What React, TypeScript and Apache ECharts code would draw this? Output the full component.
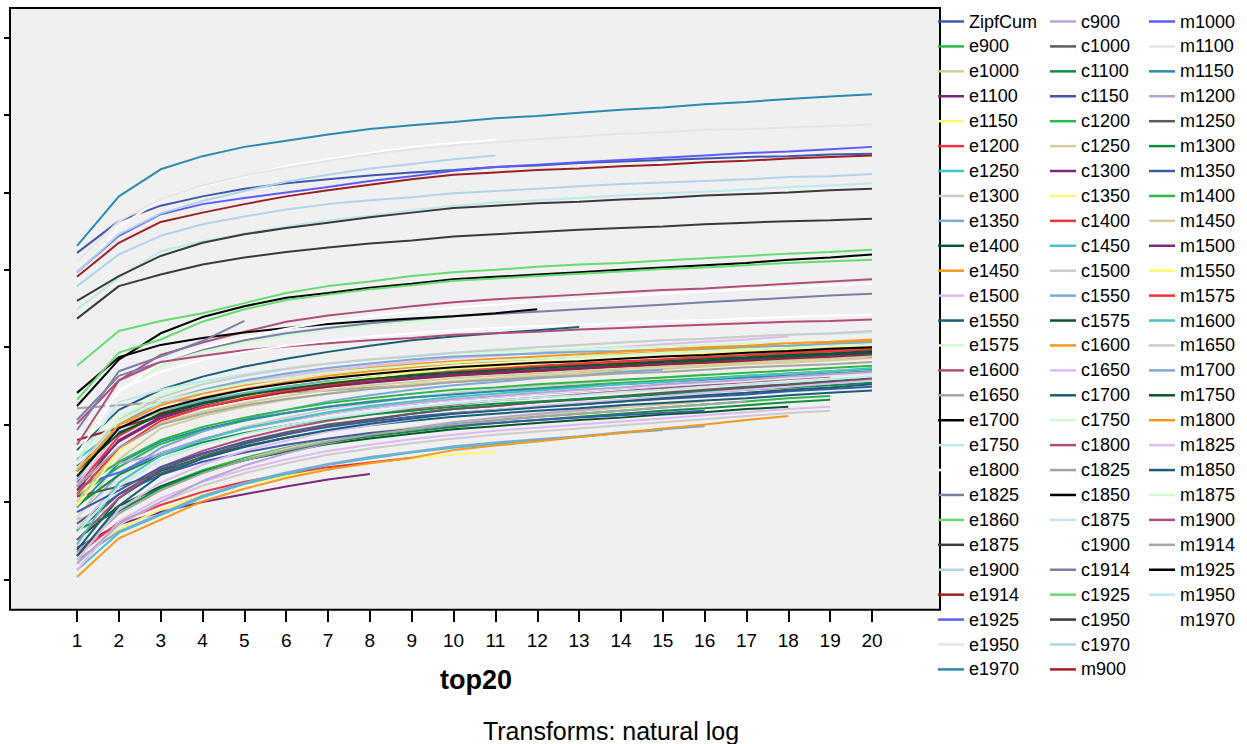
import React, { useEffect, useRef } from "react";
import * as echarts from "echarts";

const categories = ["1","2","3","4","5","6","7","8","9","10","11","12","13","14","15","16","17","18","19","20"];
const xTitle = "top20";
const footnote = "Transforms: natural log";

const legendCol1 = ["ZipfCum","e900","e1000","e1100","e1150","e1200","e1250","e1300","e1350","e1400","e1450","e1500","e1550","e1575","e1600","e1650","e1700","e1750","e1800","e1825","e1860","e1875","e1900","e1914","e1925","e1950","e1970"];
const legendCol2 = ["c900","c1000","c1100","c1150","c1200","c1250","c1300","c1350","c1400","c1450","c1500","c1550","c1575","c1600","c1650","c1700","c1750","c1800","c1825","c1850","c1875","c1900","c1914","c1925","c1950","c1970","m900"];
const legendCol3 = ["m1000","m1100","m1150","m1200","m1250","m1300","m1350","m1400","m1450","m1500","m1550","m1575","m1600","m1650","m1700","m1750","m1800","m1825","m1850","m1875","m1900","m1914","m1925","m1950","m1970"];

const palette = ["#3e58ac","#2eb848","#d3ce97","#7c287d","#fbf873","#ef3338","#48c2c5","#cccccc","#7aaad5","#0a562c","#f8981d","#ddbaf1","#1a5f76","#ccffcc","#b24d7a","#a5a5a5","#000000","#c0e8eb","#ffffff","#7b7fa8","#66db6f","#3b3b3b","#b1d3ec","#a01f24","#5c5cff","#e5e5e5","#2b8bb1","#b9a3d6","#5b5b5b","#0e8f3f"];

// ln cumulative values
const ZipfCum = [4.22,4.63,4.83,4.95,5.05,5.12,5.17,5.22,5.26,5.29,5.33,5.35,5.38,5.40,5.42,5.44,5.46,5.47,5.49,5.50];
const e900 = [0.30,0.90,1.20,1.41,1.57,1.70,1.80,1.88,1.95,2.01,2.06,2.10,2.14,2.18,2.22,2.26,2.30,2.34,2.37];
const e1000 = [0.77,0.95,1.15,1.38,1.55,1.69,1.80,1.89,1.96,2.03,2.08,2.13,2.17,2.22,2.26,2.30];
const e1100 = [0.41,0.71,0.87,1.00,1.10,1.20,1.29,1.36];
const e1150 = [0.25,0.65,0.90,1.09,1.23,1.33,1.43,1.50,1.56,1.61,1.65];
const e1200 = [0.31,0.74,0.96,1.13,1.26,1.36,1.45,1.51,1.57];
const e1250 = [0.12,0.60,0.83,1.06,1.23,1.36,1.48,1.56,1.64,1.70,1.75,1.80,1.84,1.89,1.93];
const e1300 = [0.20,0.70,1.00,1.21,1.37,1.50,1.61,1.69,1.76,1.82,1.87,1.91,1.95,1.99,2.03,2.07,2.11,2.15,2.18];
const e1350 = [0.25,0.62,0.85,1.08,1.25,1.38,1.49,1.58,1.65,1.72,1.77,1.81,1.85,1.90,1.94,1.98];
const e1400 = [0.51,0.95,1.20,1.39,1.54,1.65,1.75,1.82,1.88,1.94,1.98,2.02,2.06,2.09,2.13,2.16,2.20,2.23];
const e1450 = [0.03,0.53,0.77,1.01,1.17,1.31,1.42,1.50,1.57,1.67,1.73,1.78,1.84,1.89,1.95,2.00,2.06,2.11];
const e1500 = [0.12,0.75,1.05,1.26,1.42,1.55,1.66,1.74,1.81,1.87,1.92,1.96,2.00,2.04,2.08,2.12,2.16,2.20,2.23];
const e1550 = [1.67,2.19,2.45,2.62,2.75,2.85,2.94,3.02,3.09,3.14,3.18,3.22,3.26];
const e1575 = [1.74,2.42,2.76,2.94,3.06,3.15,3.23,3.28,3.33,3.38];
const e1600 = [2.01,2.57,2.90,3.06,3.20,3.33,3.41,3.47,3.53,3.58,3.62,3.65,3.68,3.71,3.74,3.76,3.79,3.82,3.85,3.88];
const e1650 = [2.21,2.25,2.29,2.33,2.37,2.41,2.44,2.48,2.51,2.55,2.58,2.62,2.66,2.70];
const e1700 = [2.24,2.84,3.18,3.39,3.53,3.64,3.70,3.77,3.82,3.88,3.91,3.94,3.97,4.00,4.03,4.06,4.09,4.13,4.16,4.20];
const e1750 = [3.49,3.90,4.24,4.37,4.47,4.56,4.64,4.70,4.77,4.83,4.87,4.90,4.93,4.96,4.99,5.01,5.04,5.07,5.09,5.12];
const e1800 = [3.88,4.56,4.91,5.08,5.21,5.34,5.43,5.51,5.59,5.64,5.68];
const e1825 = [2.06,2.63,2.81,2.97,3.09,3.18,3.25,3.31,3.36,3.40,3.43,3.46,3.49,3.52,3.55,3.58,3.61,3.64,3.67,3.69];
const e1860 = [2.76,3.21,3.34,3.44,3.57,3.70,3.79,3.85,3.92,3.97,4.00,4.04,4.07,4.09,4.12,4.15,4.18,4.21,4.23,4.26];
const e1875 = [3.60,3.92,4.18,4.35,4.46,4.54,4.61,4.68,4.74,4.80,4.83,4.86,4.88,4.91,4.93,4.96,4.98,5.00,5.03,5.05];
const e1900 = [3.79,4.20,4.44,4.59,4.69,4.78,4.85,4.90,4.94,4.99,5.02,5.05,5.08,5.11,5.13,5.15,5.17,5.20,5.21,5.24];
const e1914 = [3.91,4.35,4.62,4.74,4.85,4.95,5.03,5.10,5.17,5.23,5.26,5.29,5.31,5.34,5.36,5.39,5.41,5.44,5.46,5.48];
const e1925 = [3.97,4.44,4.72,4.85,4.93,5.00,5.07,5.15,5.21,5.28,5.33,5.36,5.39,5.42,5.45,5.48,5.51,5.53,5.56,5.59];
const e1950 = [4.11,4.63,4.91,5.09,5.22,5.32,5.41,5.49,5.56,5.61,5.65,5.69,5.72,5.76,5.78,5.81,5.82,5.84,5.86,5.88];
const e1970 = [4.31,4.95,5.30,5.47,5.59,5.67,5.75,5.82,5.87,5.91,5.96,5.99,6.03,6.07,6.10,6.14,6.17,6.21,6.24,6.27];

const c900 = [0.20,0.72,1.00,1.27,1.47,1.63,1.76,1.86,1.95,2.03,2.09,2.14,2.19,2.24];
const c1000 = [0.62,1.10,1.42,1.62,1.78,1.90,2.00,2.07,2.14,2.20,2.24,2.29,2.32,2.36,2.40,2.44,2.47,2.51,2.54,2.58];
const c1100 = [0.64,0.88,1.18,1.39,1.54,1.66,1.77,1.85,1.91,1.97,2.02,2.06,2.10,2.14,2.18,2.21,2.25,2.29,2.32];
const c1150 = [0.72,1.10,1.35,1.52,1.64,1.74,1.82,1.89,1.94,1.99,2.02,2.06,2.09,2.12,2.15,2.18];
const c1200 = [1.07,1.45,1.75,1.92,2.05,2.15,2.23,2.30,2.35,2.40,2.44,2.47,2.51,2.54,2.57,2.60,2.63,2.66,2.69,2.72];
const c1250 = [0.77,1.55,1.95,2.11,2.23,2.32,2.40,2.46,2.52,2.56,2.60,2.63,2.66,2.69,2.72,2.75,2.78,2.80,2.83,2.86];
const c1300 = [1.25,1.78,2.08,2.22,2.33,2.42,2.49,2.54,2.59,2.63,2.66,2.69,2.72,2.75,2.77,2.80,2.82,2.85,2.87,2.90];
const c1350 = [1.30,1.95,2.20,2.34,2.45,2.53,2.60,2.66,2.70,2.75,2.78,2.81,2.83,2.86,2.88,2.91,2.94,2.96,2.98,3.01];
const c1400 = [1.20,1.85,2.15,2.29,2.40,2.49,2.56,2.61,2.66,2.70,2.73,2.76,2.79,2.82,2.84,2.87,2.89,2.92,2.94,2.97];
const c1450 = [1.55,1.95,2.18,2.31,2.41,2.49,2.56,2.61,2.65,2.69,2.72,2.75,2.77,2.80,2.82,2.85,2.87,2.89,2.92,2.94];
const c1500 = [0.65,1.25,1.60,1.81,1.97,2.09,2.20,2.28,2.35,2.41,2.45,2.50,2.53,2.58,2.61,2.65];
const c1550 = [0.80,1.35,1.70,1.91,2.07,2.19,2.30,2.38,2.45,2.51,2.55,2.60,2.63,2.68,2.71];
const c1575 = [1.46,1.90,2.12,2.27,2.37,2.46,2.53,2.59,2.64,2.68,2.71,2.74,2.77,2.79,2.82,2.85,2.87,2.90,2.92,2.95];
const c1600 = [1.39,2.00,2.19,2.35,2.46,2.55,2.63,2.69,2.74,2.79,2.82,2.85,2.88,2.91,2.94,2.97,3.00,3.02,3.05,3.08];
const c1650 = [1.22,1.93,2.26,2.43,2.54,2.63,2.70,2.76,2.81,2.86,2.89,2.93,2.97,3.00,3.04,3.07,3.10,3.14];
const c1700 = [0.38,1.05,1.40,1.58,1.72,1.83,1.92,1.99,2.05,2.10,2.14,2.18,2.21,2.25,2.28,2.31,2.34,2.38,2.41,2.44];
const c1750 = [1.35,2.09,2.39,2.54,2.65,2.72,2.79,2.84,2.88,2.92,2.94,2.96,2.97,2.99,3.01,3.03,3.05,3.06];
const c1800 = [0.51,1.05,1.45,1.66,1.82,1.95,2.05,2.13,2.20,2.26,2.31,2.35,2.39,2.43,2.47,2.51,2.55,2.59,2.62];
const c1825 = [0.35,0.85,1.15,1.37,1.54,1.67,1.78,1.87,1.94,2.00,2.05,2.10,2.14,2.18,2.22,2.26,2.30];
const c1850 = [2.41,2.87,3.03,3.12,3.19,3.25,3.30,3.34,3.37,3.40,3.44,3.49];
const c1875 = [1.52,2.29,2.45,2.56,2.65,2.73,2.79,2.84,2.89,2.93,2.97,3.00,3.03,3.06,3.09,3.11,3.14,3.16,3.17,3.19];
const c1900 = [1.80,2.42,2.81,2.99,3.12,3.24,3.33,3.40,3.46,3.51,3.55,3.59,3.62,3.66,3.69,3.72,3.75,3.77,3.80,3.82];
const c1914 = [1.93,2.69,2.88,3.08,3.34];
const c1925 = [2.32,2.93,3.10,3.33,3.49,3.61,3.68,3.75,3.80,3.86,3.89,3.92,3.95,3.98,4.01,4.03,4.06,4.09,4.11,4.13];
const c1950 = [3.37,3.79,3.94,4.07,4.16,4.23,4.29,4.34,4.38,4.43,4.46,4.49,4.52,4.54,4.56,4.59,4.61,4.63,4.64,4.66];
const c1970 = [3.97,4.46,4.73,4.89,5.02,5.14,5.23,5.31,5.37,5.43,5.48];
const m900 = [1.80,1.96,2.11,2.22,2.33,2.42,2.49,2.55,2.60,2.64,2.67,2.70,2.73,2.75,2.78,2.80,2.82,2.84,2.86,2.88];

const m1000 = [1.20,1.38,1.63,1.81,1.95,2.05,2.14,2.21,2.27,2.32,2.36,2.40,2.43,2.47,2.50,2.53,2.57,2.60,2.63];
const m1100 = [0.80,1.30,1.62,1.80,1.94,2.05,2.14,2.21,2.27,2.32,2.36,2.40,2.43,2.47,2.50,2.53,2.56,2.60,2.63,2.66];
const m1150 = [0.93,1.50,1.78,1.94,2.06,2.15,2.23,2.29,2.35,2.39,2.43,2.46,2.49,2.52,2.55,2.58,2.61,2.63,2.66,2.69];
const m1200 = [1.25,1.50,1.62,1.81,1.95,2.05,2.15,2.22,2.28,2.33,2.37,2.41,2.45,2.48,2.52,2.55,2.58,2.62,2.65,2.68];
const m1250 = [1.07,1.20,1.37,1.59,1.75,1.87,1.98,2.06,2.14,2.20,2.24,2.29,2.33,2.37,2.41,2.45,2.49,2.52,2.56,2.60];
const m1300 = [0.95,1.35,1.60,1.77,1.89,1.99,2.07,2.13,2.18,2.23,2.27,2.30,2.33,2.36,2.39,2.42,2.45,2.48,2.51,2.54];
const m1350 = [0.87,1.15,1.45,1.63,1.77,1.88,1.97,2.04,2.10,2.15,2.19,2.23,2.26,2.30,2.33,2.36,2.39,2.43,2.46,2.49];
const m1400 = [1.15,1.52,1.80,1.97,2.09,2.19,2.28,2.34,2.40,2.45,2.48,2.52,2.55,2.58,2.61,2.64,2.67,2.70,2.73,2.76];
const m1450 = [1.00,1.70,2.02,2.17,2.28,2.37,2.45,2.51,2.55,2.60,2.63,2.66,2.69,2.72,2.75,2.77,2.80,2.83,2.85,2.88];
const m1500 = [1.15,1.80,2.10,2.24,2.35,2.44,2.51,2.56,2.61,2.65,2.68,2.71,2.74,2.77,2.79,2.82,2.84,2.87,2.89,2.92];
const m1550 = [0.95,1.65,2.05,2.22,2.35,2.46,2.54,2.61,2.67,2.72,2.75,2.79,2.82,2.85,2.89,2.92,2.95,2.98,3.01,3.04];
const m1575 = [1.10,1.70,2.05,2.22,2.34,2.44,2.52,2.58,2.63,2.68,2.72,2.75,2.78,2.81,2.84,2.87,2.90,2.93,2.96,2.99];
const m1600 = [0.45,1.25,1.60,1.80,1.95,2.06,2.16,2.24,2.30,2.36,2.40,2.44,2.48,2.52,2.55,2.59,2.63,2.66,2.69,2.73];
const m1650 = [1.44,2.06,2.35,2.52,2.63,2.72,2.79,2.84,2.88,2.93,2.96,3.00,3.03,3.06,3.09,3.11,3.14,3.16,3.18,3.21];
const m1700 = [1.29,2.00,2.30,2.45,2.57,2.66,2.73,2.79,2.84,2.88,2.90,2.92,2.94,2.95,2.97,2.99,3.01,3.02,3.04,3.06];
const m1750 = [1.40,1.88,2.14,2.28,2.38,2.46,2.53,2.59,2.63,2.67,2.70,2.73,2.76,2.78,2.81,2.83,2.86,2.88,2.91,2.93];
const m1800 = [1.40,2.00,2.25,2.40,2.51,2.60,2.67,2.73,2.78,2.82,2.85,2.88,2.91,2.94,2.97,3.00,3.02,3.05,3.07,3.10];
const m1825 = [0.25,0.90,1.25,1.48,1.66,1.79,1.91,1.99,2.07,2.14,2.19,2.24,2.28,2.32,2.37,2.41,2.45,2.49,2.53,2.57];
const m1850 = [0.30,0.95,1.35,1.56,1.71,1.83,1.93,2.01,2.08,2.14,2.18,2.22,2.26,2.30,2.34,2.38,2.41,2.45,2.48,2.52];
const m1875 = [1.60,2.05,2.30,2.43,2.53,2.60,2.67,2.72,2.76,2.80,2.83,2.85,2.88,2.90,2.93,2.95,2.97,2.99,3.02,3.04];
const m1900 = [1.74,2.57,2.81,2.89,2.96,3.01,3.05,3.09,3.12,3.16,3.18,3.20,3.23,3.25,3.27,3.29,3.31,3.33,3.34,3.36];
const m1914 = [1.20,1.70,2.00,2.14,2.25,2.33,2.40,2.46,2.50,2.55,2.58,2.61,2.63,2.66,2.68,2.71,2.74,2.76,2.78,2.81];
const m1925 = [1.33,1.95,2.20,2.34,2.45,2.53,2.60,2.65,2.70,2.74,2.77,2.80,2.82,2.85,2.88,2.90,2.93,2.95,2.98,3.00];
const m1950 = [0.60,1.20,1.55,1.74,1.88,1.99,2.08,2.15,2.22,2.27,2.31,2.35,2.38,2.42,2.45,2.49,2.52,2.55,2.59,2.62];
const m1970 = [1.61,2.45,2.68,2.84,2.94,3.02,3.08,3.14,3.18,3.22,3.25,3.27,3.29,3.31,3.34,3.35,3.37,3.39,3.41,3.42];

const seriesData: Record<string, number[]> = {
  ZipfCum, e900, e1000, e1100, e1150, e1200, e1250, e1300, e1350, e1400, e1450, e1500, e1550, e1575, e1600, e1650, e1700, e1750, e1800, e1825, e1860, e1875, e1900, e1914, e1925, e1950, e1970,
  c900, c1000, c1100, c1150, c1200, c1250, c1300, c1350, c1400, c1450, c1500, c1550, c1575, c1600, c1650, c1700, c1750, c1800, c1825, c1850, c1875, c1900, c1914, c1925, c1950, c1970, m900,
  m1000, m1100, m1150, m1200, m1250, m1300, m1350, m1400, m1450, m1500, m1550, m1575, m1600, m1650, m1700, m1750, m1800, m1825, m1850, m1875, m1900, m1914, m1925, m1950, m1970,
};

const FONT = "'Liberation Sans', Arial, Helvetica, sans-serif";

export default function App() {
  const ref = useRef<HTMLDivElement>(null);
  useEffect(() => {
    if (!ref.current) return;
    const chart = echarts.init(ref.current, null, { renderer: "svg" });
    const names = [...legendCol1, ...legendCol2, ...legendCol3];
    const series = names.map((name, i) => ({
      name,
      type: "line",
      xAxisIndex: 0,
      yAxisIndex: 0,
      data: seriesData[name],
      symbol: "none",
      showSymbol: false,
      color: palette[i % palette.length],
      lineStyle: { width: 2, color: palette[i % palette.length] },
      emphasis: { disabled: true },
      silent: true,
    }));
    const cols = [legendCol1, legendCol2, legendCol3];
    const lefts = [938, 1050, 1149];
    const legend = cols.map((col, i) => ({
      data: col,
      orient: "vertical",
      left: lefts[i],
      top: 12.5,
      padding: 0,
      itemGap: 6.92,
      itemWidth: 26,
      itemHeight: 2.5,
      icon: "rect",
      selectedMode: false,
      textStyle: { fontSize: 18, color: "#000", lineHeight: 18, fontFamily: FONT },
    }));
    chart.setOption({
      animation: false,
      textStyle: { fontFamily: FONT },
      grid: [
        { left: 56.1, right: 354.1, top: 37.8, bottom: 164.7, containLabel: false },
        // thin strip below the frame that carries the x-axis ticks and labels
        { left: 77, right: 375, top: 610.5, bottom: 122, containLabel: false },
      ],
      xAxis: [
        {
          gridIndex: 0,
          type: "category",
          data: categories,
          boundaryGap: true,
          show: false,
        },
        {
          gridIndex: 1,
          type: "category",
          data: categories,
          boundaryGap: false,
          position: "bottom",
          axisLine: { show: false, onZero: false },
          axisTick: { show: false },
          axisLabel: { show: true, interval: 0, color: "#000", fontSize: 19, margin: 9, fontFamily: FONT },
          splitLine: { show: true, interval: 0, lineStyle: { color: "#000", width: 2, type: "solid" } },
        },
      ],
      yAxis: [
        {
          gridIndex: 0,
          type: "value",
          min: 0,
          max: 7,
          interval: 1,
          offset: 46.1,
          axisLine: { show: false, onZero: false },
          axisTick: { show: true, length: 6, lineStyle: { color: "#000", width: 2 } },
          axisLabel: { show: false },
          splitLine: { show: false },
        },
        {
          gridIndex: 1,
          type: "value",
          min: 0,
          max: 1,
          show: false,
          splitLine: { show: false },
        },
      ],
      legend,
      graphic: [
        {
          type: "rect",
          z: -10,
          shape: { x: 10, y: 8, width: 930, height: 601.7 },
          style: { fill: "#f0f0f0", stroke: "#000", lineWidth: 2 },
          silent: true,
        },
        {
          type: "text",
          x: 476,
          y: 680,
          style: { text: xTitle, font: `bold 27px ${FONT}`, fill: "#000", textAlign: "center", textVerticalAlign: "middle" },
        },
        {
          type: "text",
          x: 611,
          y: 731,
          style: { text: footnote, font: `25px ${FONT}`, fill: "#000", textAlign: "center", textVerticalAlign: "middle" },
        },
      ],
      series,
    });
    return () => chart.dispose();
  }, []);
  return <div ref={ref} style={{ position: "fixed", left: 0, top: 0, width: 1247, height: 744, background: "#fff" }} />;
}
